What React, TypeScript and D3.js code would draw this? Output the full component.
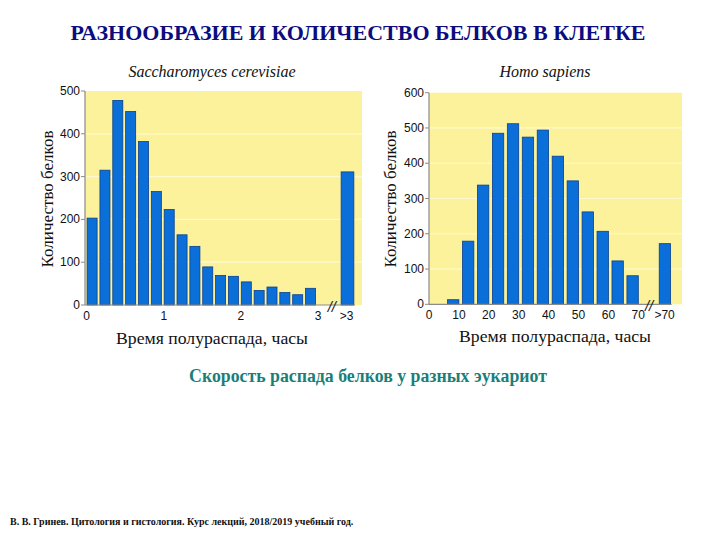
import * as d3 from 'd3';

// Saccharomyces cerevisiae: 10-minute bins from 0 to 3 h, plus ">3"
const yeastValues = [203, 315, 478, 452, 382, 265, 223, 164, 137, 89, 69, 67, 54, 34, 42, 29, 24, 39];
const yeastOver = 311;
const yeastTicks = [0, 1, 2, 3];
const yeastYTicks = [0, 100, 200, 300, 400, 500];

// Homo sapiens: 5-hour bins from 5 to 70 h, plus ">70"
const humanValues = [13, 179, 338, 485, 512, 474, 494, 420, 350, 262, 207, 123, 81];
const humanOver = 172;
const humanTicks = [0, 10, 20, 30, 40, 50, 60, 70];
const humanYTicks = [0, 100, 200, 300, 400, 500, 600];

const BAR = '#0b6fd9';
const BAR_EDGE = '#0a3f8f';
const BG = '#fcf29c';
const AXIS = '#8a8a8a';
const SANS = 'Liberation Sans, Arial, sans-serif';
const SERIF = 'Liberation Serif, Times New Roman, serif';

type Bin = { lo: number; hi: number; v: number };
type Props = {
  left: number; right: number; top: number; bottom: number;
  xDomain: [number, number]; xRange: [number, number];
  yMax: number; yTicks: number[]; xTicks: number[];
  bars: Bin[];
  over: Bin & { labelAt: number; breakAt: number };
  overLabel: string;
};

function Panel(p: Props) {
  const x = d3.scaleLinear().domain(p.xDomain).range(p.xRange);
  const y = d3.scaleLinear().domain([0, p.yMax]).range([p.bottom, p.top]);
  const all = [...p.bars, p.over];
  return (
    <g>
      <rect x={p.left} y={p.top} width={p.right - p.left} height={p.bottom - p.top} fill={BG} />
      {p.yTicks.slice(1, -1).map(t => (
        <line key={t} x1={p.left} x2={p.right} y1={y(t)} y2={y(t)} stroke="#fff9cf" strokeWidth={1.2} />
      ))}
      {all.map((b, i) => (
        <rect key={i} x={x(b.lo)} y={y(b.v)} width={x(b.hi) - x(b.lo)} height={y(0) - y(b.v)}
          fill={BAR} stroke={BAR_EDGE} strokeWidth={0.8} />
      ))}
      <line x1={p.left} x2={p.left} y1={p.top} y2={p.bottom} stroke={AXIS} strokeWidth={1.2} />
      <line x1={p.left} x2={x(p.over.hi) + 1} y1={p.bottom} y2={p.bottom} stroke={AXIS} strokeWidth={1.2} />
      {p.yTicks.map(t => (
        <g key={t}>
          <line x1={p.left - 4} x2={p.left} y1={y(t)} y2={y(t)} stroke={AXIS} strokeWidth={1} />
          <text x={p.left - 5} y={y(t) + 4} textAnchor="end" fontFamily={SANS} fontSize={12} fill="#111">{t}</text>
        </g>
      ))}
      {p.xTicks.map(t => (
        <text key={t} x={x(t)} y={p.bottom + 15} textAnchor="middle" fontFamily={SANS} fontSize={12} fill="#111">{t}</text>
      ))}
      <text x={x(p.over.labelAt)} y={p.bottom + 15} textAnchor="middle" fontFamily={SANS} fontSize={12} fill="#111">{p.overLabel}</text>
      <text x={x(p.over.breakAt)} y={p.bottom + 7} textAnchor="middle" fontFamily={SANS} fontSize={15} fontStyle="italic" fill="#222">//</text>
    </g>
  );
}

export default function App() {
  const yeastStep = 1 / 6;
  const yeastBars = yeastValues.map((v, i) => ({ lo: i * yeastStep + 0.005, hi: i * yeastStep + 0.135, v }));
  const humanBars = humanValues.map((v, i) => ({ lo: 5 + i * 5 + 1.2, hi: 5 + i * 5 + 5, v }));
  return (
    <div style={{ position: 'absolute', left: 0, top: 0 }}>
      <svg width={720} height={540} viewBox="0 0 720 540" style={{ display: 'block', background: '#fff' }}>
        <text x={358} y={40} textAnchor="middle" fontFamily={SERIF} fontWeight="bold" fontSize={22} fill="#0c0c80">
          РАЗНООБРАЗИЕ И КОЛИЧЕСТВО БЕЛКОВ В КЛЕТКЕ
        </text>
        <text x={212} y={77} textAnchor="middle" fontFamily={SERIF} fontStyle="italic" fontSize={16} fill="#111">
          Saccharomyces cerevisiae
        </text>
        <text x={545} y={77} textAnchor="middle" fontFamily={SERIF} fontStyle="italic" fontSize={16} fill="#111">
          Homo sapiens
        </text>

        <Panel left={85} right={362} top={91} bottom={305}
          xDomain={[0, 3]} xRange={[86.7, 318]} yMax={500}
          yTicks={yeastYTicks} xTicks={yeastTicks} bars={yeastBars}
          over={{ lo: 3.3, hi: 3.465, v: yeastOver, labelAt: 3.37, breakAt: 3.18 }}
          overLabel=">3" />
        <Panel left={429} right={682} top={92.7} bottom={304.3}
          xDomain={[0, 70]} xRange={[429, 638.3]} yMax={600}
          yTicks={humanYTicks} xTicks={humanTicks} bars={humanBars}
          over={{ lo: 77.0, hi: 80.8, v: humanOver, labelAt: 78.8, breakAt: 73.6 }}
          overLabel=">70" />

        <text transform="translate(53,199) rotate(-90)" textAnchor="middle" fontFamily={SERIF} fontSize={17} fill="#111">
          Количество белков
        </text>
        <text transform="translate(396,199) rotate(-90)" textAnchor="middle" fontFamily={SERIF} fontSize={17} fill="#111">
          Количество белков
        </text>
        <text x={212} y={344} textAnchor="middle" fontFamily={SERIF} fontSize={17.7} fill="#111">
          Время полураспада, часы
        </text>
        <text x={555} y={342} textAnchor="middle" fontFamily={SERIF} fontSize={17.7} fill="#111">
          Время полураспада, часы
        </text>

        <text x={368} y={382} textAnchor="middle" fontFamily={SERIF} fontWeight="bold" fontSize={17.8} fill="#1b7f79">
          Скорость распада белков у разных эукариот
        </text>
        <text x={10} y={525} fontFamily={SERIF} fontWeight="bold" fontSize={10} fill="#111">
          В. В. Гринев. Цитология и гистология. Курс лекций, 2018/2019 учебный год.
        </text>
      </svg>
    </div>
  );
}
